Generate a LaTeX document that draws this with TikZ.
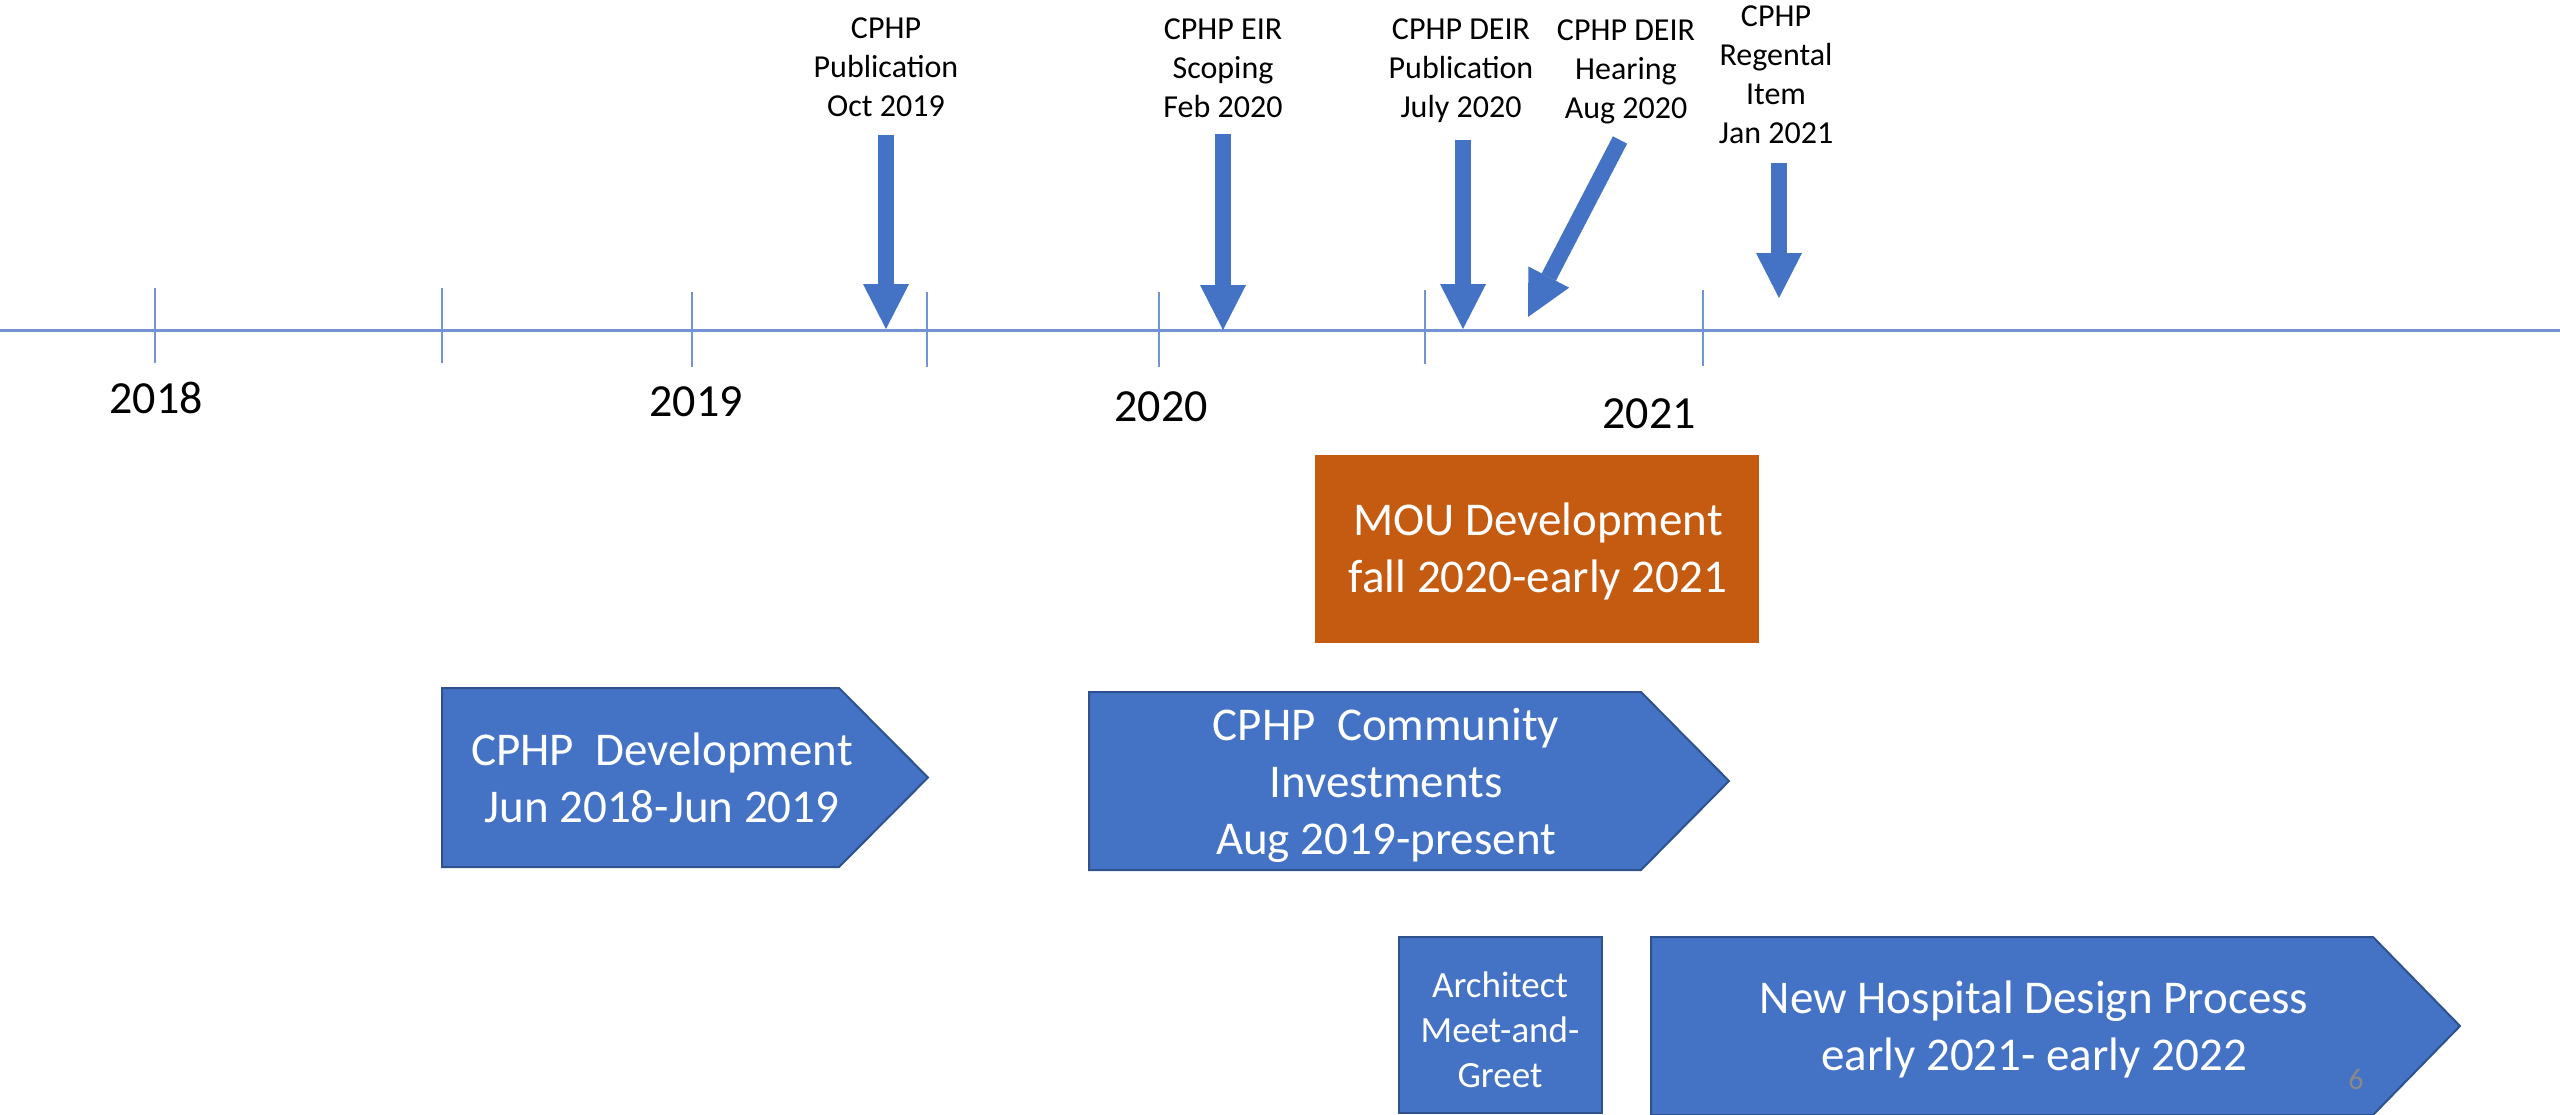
\documentclass[tikz,border=0pt]{standalone}
\usepackage{fontspec}
\setmainfont{Carlito}
\usetikzlibrary{arrows.meta}
\definecolor{accblue}{HTML}{4472C4}
\definecolor{edgeblue}{HTML}{2F528F}
\definecolor{axisblue}{RGB}{114,148,211}
\definecolor{mouorange}{HTML}{C55A11}
\definecolor{pagegray}{HTML}{898989}
\begin{document}
\begin{tikzpicture}[x=1pt,y=-1pt,
  axisline/.style={draw=axisblue, line width=3pt},
  tickline/.style={draw=axisblue, line width=2pt},
  evarrow/.style={draw=accblue, line width=16pt, -{Triangle[width=46pt,length=45pt,line width=0pt]}},
  evlabel/.style={align=center, inner sep=0pt, text=black, font=\fontsize{32}{39}\selectfont},
  yearlabel/.style={inner sep=0pt, text=black, font=\fontsize{46}{55}\selectfont},
  chevfill/.style={fill=accblue, draw=edgeblue, line width=2pt},
  boxtext/.style={align=center, inner sep=0pt, text=white, font=\fontsize{47}{57}\selectfont},
  smalltext/.style={align=center, inner sep=0pt, text=white, font=\fontsize{37}{45}\selectfont}
]
\useasboundingbox (0,0) rectangle (2560,1114);
\fill[white] (0,0) rectangle (2560,1114);

% axis
\coordinate (axL) at (0,330);
\coordinate (axR) at (2560,330);
\draw[axisline] (axL) -- (axR);

% ticks
\foreach \tx/\ta/\tb in {155/288/363, 442/288/363, 692/292/367, 927/292/367, 1159/292/367, 1425/290/364, 1703/290/366}{
  \draw[tickline] (\tx,\ta) -- (\tx,\tb);
}

% year labels
\node[yearlabel] (y2018) at (156,398) {2018};
\node[yearlabel] (y2019) at (696,402) {2019};
\node[yearlabel] (y2020) at (1161,407) {2020};
\node[yearlabel] (y2021) at (1649,414) {2021};

% event labels
\node[evlabel] (l1) at (886,67) {CPHP\\Publication\\Oct 2019};
\node[evlabel] (l2) at (1223,68) {CPHP EIR\\Scoping\\Feb 2020};
\node[evlabel] (l3) at (1461,71) {CPHP DEIR\\Publication\\July 2020};
\node[evlabel] (l4) at (1626,72) {CPHP DEIR\\Hearing\\Aug 2020};
\node[evlabel] (l5) at (1776,75) {CPHP\\Regental\\Item\\Jan 2021};

% event arrows
\coordinate (a1s) at (886,135);  \coordinate (a1e) at (886,329);
\coordinate (a2s) at (1223,134); \coordinate (a2e) at (1223,330);
\coordinate (a3s) at (1463,140); \coordinate (a3e) at (1463,329);
\coordinate (a4s) at (1620,140); \coordinate (a4e) at (1528,317);
\coordinate (a5s) at (1779,163); \coordinate (a5e) at (1779,298);
\draw[evarrow] (a1s) -- (a1e);
\draw[evarrow] (a2s) -- (a2e);
\draw[evarrow] (a3s) -- (a3e);
\draw[evarrow] (a4s) -- (a4e);
\draw[evarrow] (a5s) -- (a5e);

% MOU box
\fill[mouorange] (1315,455) rectangle (1759,643);
\node[boxtext] (mou) at (1538,551) {MOU Development\\fall 2020-early 2021};

% chevrons
\path[chevfill] (442,688) -- (839,688) -- (928,777.5) -- (839,867) -- (442,867) -- cycle;
\node[boxtext] (dev) at (662,778) {CPHP\ \ Development\\Jun 2018-Jun 2019};

\path[chevfill] (1089,692) -- (1641,692) -- (1729,781) -- (1641,870) -- (1089,870) -- cycle;
\node[boxtext] (comm) at (1386,785) {CPHP\ \ Community\\Investments\\Aug 2019-present};

\path[chevfill] (1399,937) rectangle (1602,1113);
\node[smalltext] (arch) at (1500,1030) {Architect\\Meet-and-\\Greet};

\path[chevfill] (1651,937) -- (2373,937) -- (2460,1026) -- (2373,1115) -- (1651,1115) -- cycle;
\node[boxtext] (hosp) at (2034,1029) {New Hospital Design Process\\early 2021- early 2022};

\node[inner sep=0pt, text=pagegray, font=\fontsize{30}{36}\selectfont] (pg) at (2356,1079) {6};
\end{tikzpicture}
\end{document}
